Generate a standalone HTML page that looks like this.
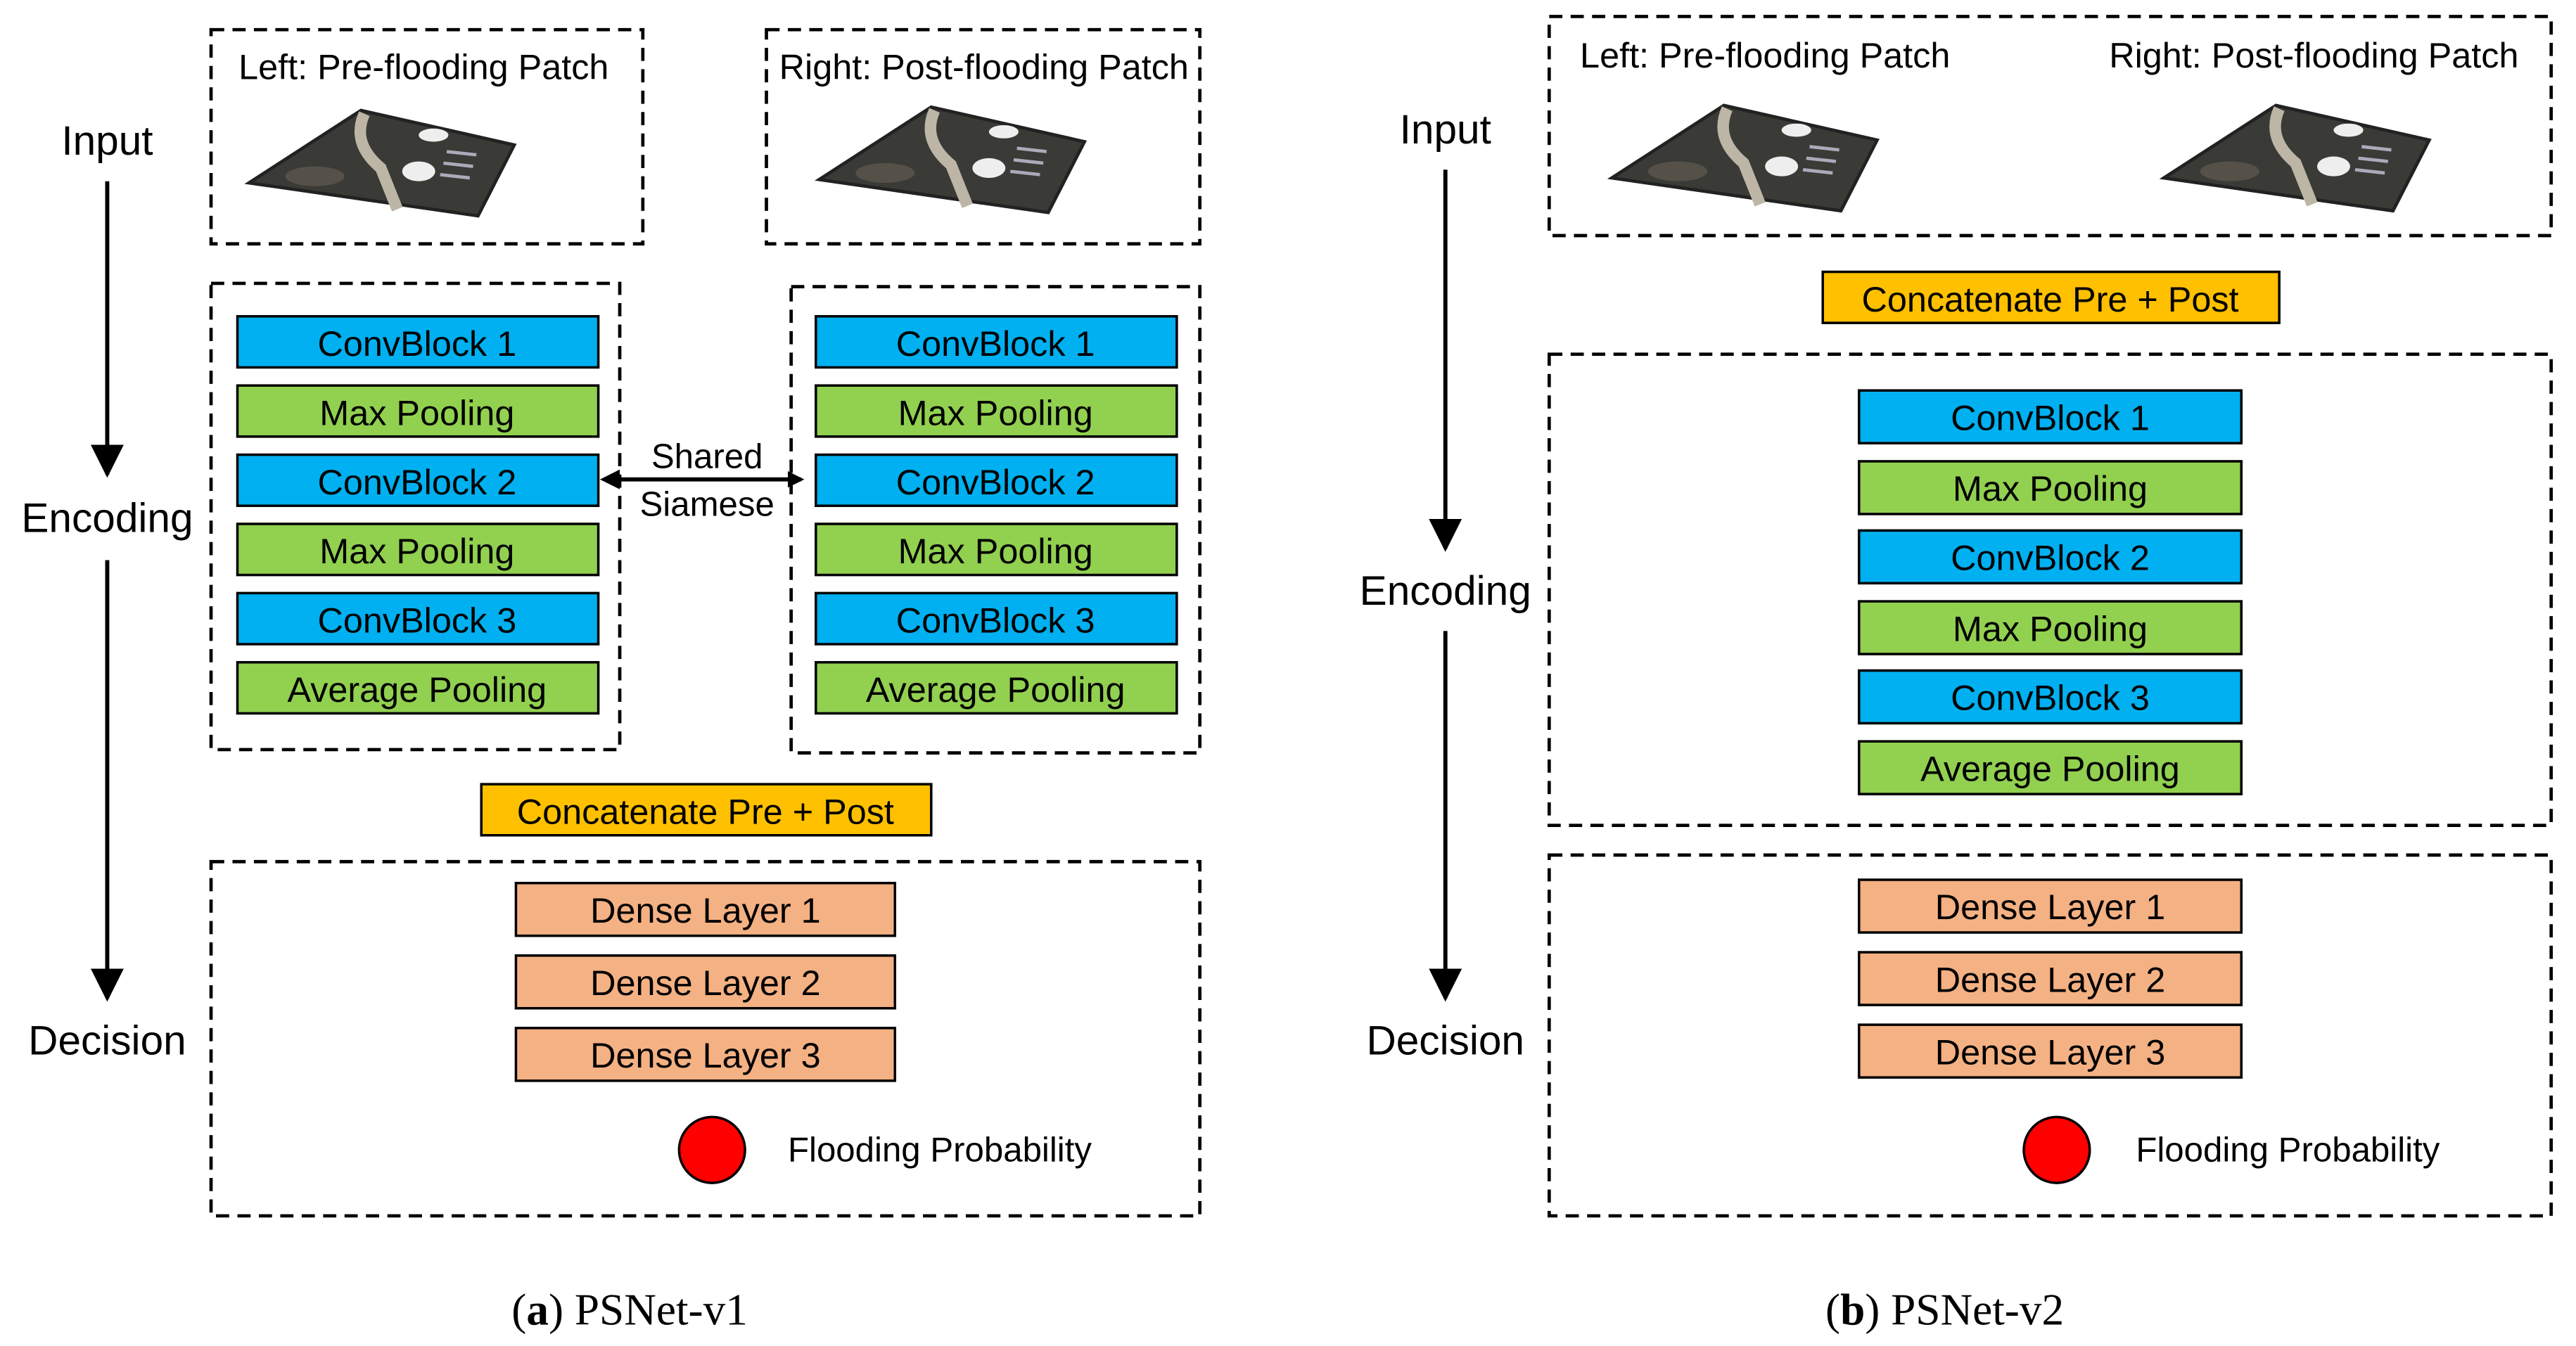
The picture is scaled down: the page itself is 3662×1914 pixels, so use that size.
<!DOCTYPE html>
<html><head><meta charset="utf-8"><style>
html,body{margin:0;padding:0;background:#fff;}
svg{display:block;}
text{font-family:"Liberation Sans",sans-serif;}
</style></head><body>
<svg width="3662" height="1914" viewBox="0 0 1563 817" xmlns="http://www.w3.org/2000/svg">
<defs>
<marker id="ah" markerWidth="10" markerHeight="10" refX="8" refY="5" orient="auto" markerUnits="userSpaceOnUse"><path d="M0,0 L10,5 L0,10 z" fill="#000"/></marker>
<marker id="ah2" markerWidth="20" markerHeight="20" refX="18" refY="10" orient="auto" markerUnits="userSpaceOnUse"><path d="M0,0 L20,10 L0,20 z" fill="#000"/></marker>
<g id="patch">
<polygon points="0,44 68,0 161,21 139,64" fill="#3a3a36"/>
<polygon points="0,44 68,0 161,21 139,64" fill="none" stroke="#222" stroke-width="2"/>
<path d="M70,2 Q62,20 80,35 L90,60" stroke="#bdb6a6" stroke-width="7" fill="none"/>
<ellipse cx="112" cy="15" rx="9" ry="4" fill="#eee"/>
<ellipse cx="103" cy="37" rx="10" ry="6" fill="#eee"/>
<path d="M120,25 l18,2 M118,32 l18,2 M116,39 l18,2" stroke="#aab" stroke-width="2"/>
<ellipse cx="40" cy="40" rx="18" ry="6" fill="#555048"/>
</g>
</defs>
<g fill="none" stroke="#000" stroke-width="2" stroke-dasharray="8,5">
<rect x="128" y="18" width="262" height="130"/>
<rect x="465" y="18" width="263" height="130"/>
<rect x="128" y="172" width="248" height="283"/>
<rect x="480" y="174" width="248" height="283"/>
<rect x="128" y="523" width="600" height="215"/>
<rect x="940" y="10" width="608" height="133"/>
<rect x="940" y="215" width="608" height="286"/>
<rect x="940" y="519" width="608" height="219"/>
</g>
<g font-size="21.5" text-anchor="middle">
<text x="257" y="48">Left: Pre-flooding Patch</text>
<text x="597" y="48">Right: Post-flooding Patch</text>
<text x="1071" y="41">Left: Pre-flooding Patch</text>
<text x="1404" y="41">Right: Post-flooding Patch</text>
</g>
<use href="#patch" x="151" y="67"/>
<use href="#patch" x="497" y="65"/>
<use href="#patch" x="978" y="64"/>
<use href="#patch" x="1313" y="64"/>
<g font-size="25" text-anchor="middle">
<text x="65" y="94">Input</text><text x="65" y="323">Encoding</text><text x="65" y="640">Decision</text>
<text x="877" y="87">Input</text><text x="877" y="367">Encoding</text><text x="877" y="640">Decision</text>
</g>
<g stroke="#000" stroke-width="2.5">
<line x1="65" y1="110" x2="65" y2="288" marker-end="url(#ah2)"/>
<line x1="65" y1="340" x2="65" y2="606" marker-end="url(#ah2)"/>
<line x1="877" y1="103" x2="877" y2="333" marker-end="url(#ah2)"/>
<line x1="877" y1="383" x2="877" y2="606" marker-end="url(#ah2)"/>
<line x1="372" y1="291" x2="486" y2="291" marker-end="url(#ah)"/>
</g>
<path d="M364,291 l12,-6 v12 z" fill="#000"/>
<g font-size="21" text-anchor="middle"><text x="429" y="284">Shared</text><text x="429" y="313">Siamese</text></g>
<g stroke="#000" stroke-width="1.5">
<rect x="144" y="192" width="219" height="31" fill="#00B0F0"/>
<rect x="144" y="234" width="219" height="31" fill="#92D050"/>
<rect x="144" y="276" width="219" height="31" fill="#00B0F0"/>
<rect x="144" y="318" width="219" height="31" fill="#92D050"/>
<rect x="144" y="360" width="219" height="31" fill="#00B0F0"/>
<rect x="144" y="402" width="219" height="31" fill="#92D050"/>
<rect x="495" y="192" width="219" height="31" fill="#00B0F0"/>
<rect x="495" y="234" width="219" height="31" fill="#92D050"/>
<rect x="495" y="276" width="219" height="31" fill="#00B0F0"/>
<rect x="495" y="318" width="219" height="31" fill="#92D050"/>
<rect x="495" y="360" width="219" height="31" fill="#00B0F0"/>
<rect x="495" y="402" width="219" height="31" fill="#92D050"/>
<rect x="292" y="476" width="273" height="31" fill="#FFC000"/>
<rect x="313" y="536" width="230" height="32" fill="#F4B183"/>
<rect x="313" y="580" width="230" height="32" fill="#F4B183"/>
<rect x="313" y="624" width="230" height="32" fill="#F4B183"/>
<rect x="1106" y="165" width="277" height="31" fill="#FFC000"/>
<rect x="1128" y="237" width="232" height="32" fill="#00B0F0"/>
<rect x="1128" y="280" width="232" height="32" fill="#92D050"/>
<rect x="1128" y="322" width="232" height="32" fill="#00B0F0"/>
<rect x="1128" y="365" width="232" height="32" fill="#92D050"/>
<rect x="1128" y="407" width="232" height="32" fill="#00B0F0"/>
<rect x="1128" y="450" width="232" height="32" fill="#92D050"/>
<rect x="1128" y="534" width="232" height="32" fill="#F4B183"/>
<rect x="1128" y="578" width="232" height="32" fill="#F4B183"/>
<rect x="1128" y="622" width="232" height="32" fill="#F4B183"/>
<circle cx="432" cy="698" r="20" fill="#FF0000"/>
<circle cx="1248" cy="698" r="20" fill="#FF0000"/>
</g>
<g font-size="21.5" text-anchor="middle">
<text x="253" y="216">ConvBlock 1</text><text x="253" y="258">Max Pooling</text><text x="253" y="300">ConvBlock 2</text>
<text x="253" y="342">Max Pooling</text><text x="253" y="384">ConvBlock 3</text><text x="253" y="426">Average Pooling</text>
<text x="604" y="216">ConvBlock 1</text><text x="604" y="258">Max Pooling</text><text x="604" y="300">ConvBlock 2</text>
<text x="604" y="342">Max Pooling</text><text x="604" y="384">ConvBlock 3</text><text x="604" y="426">Average Pooling</text>
<text x="428" y="500">Concatenate Pre + Post</text>
<text x="428" y="560">Dense Layer 1</text><text x="428" y="604">Dense Layer 2</text><text x="428" y="648">Dense Layer 3</text>
<text x="1244" y="189">Concatenate Pre + Post</text>
<text x="1244" y="261">ConvBlock 1</text><text x="1244" y="304">Max Pooling</text><text x="1244" y="346">ConvBlock 2</text>
<text x="1244" y="389">Max Pooling</text><text x="1244" y="431">ConvBlock 3</text><text x="1244" y="474">Average Pooling</text>
<text x="1244" y="558">Dense Layer 1</text><text x="1244" y="602">Dense Layer 2</text><text x="1244" y="646">Dense Layer 3</text>
</g>
<g font-size="21"><text x="478" y="705">Flooding Probability</text><text x="1296" y="705">Flooding Probability</text></g>
<g font-size="27" text-anchor="middle">
<text x="382" y="804" style="font-family:'Liberation Serif',serif">(<tspan font-weight="bold">a</tspan>) PSNet-v1</text>
<text x="1180" y="804" style="font-family:'Liberation Serif',serif">(<tspan font-weight="bold">b</tspan>) PSNet-v2</text>
</g>
</svg>
</body></html>
